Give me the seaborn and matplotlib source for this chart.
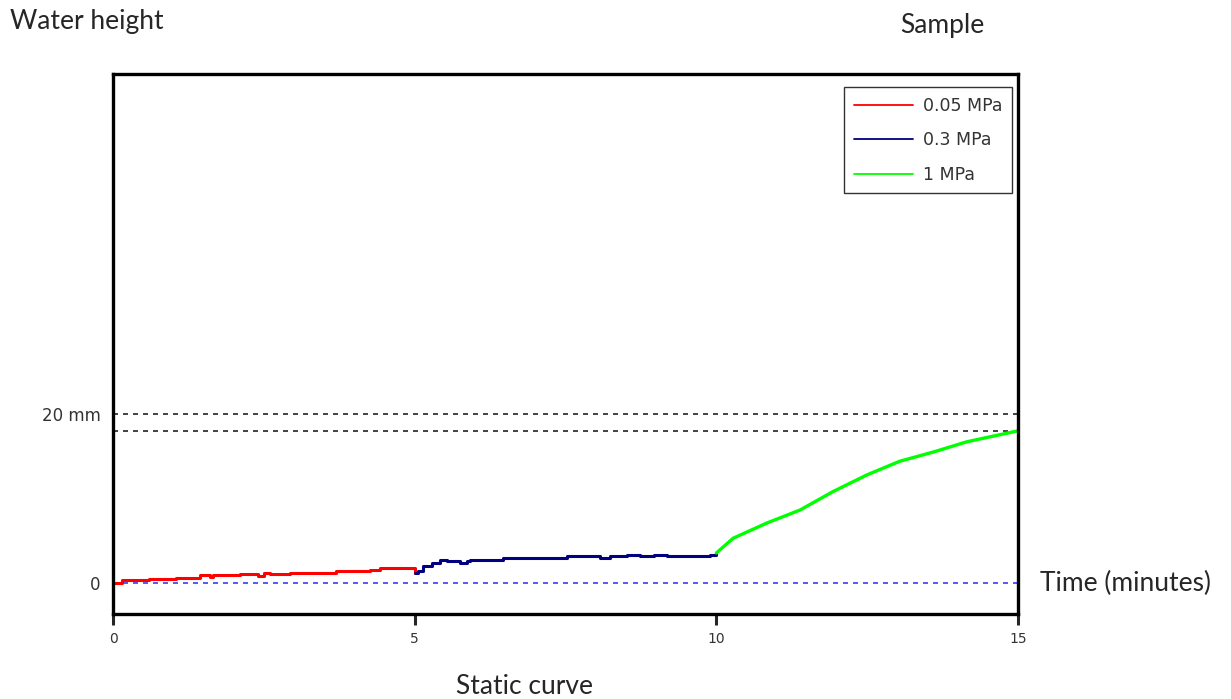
import pandas as pd
import seaborn as sns
import matplotlib.pyplot as plt

# Water height (mm) vs. time (minutes)
t_low = [0, 0.15, 0.6, 1.05, 1.44, 1.6, 1.65, 2.1, 2.4, 2.5, 2.6, 2.93, 3.7, 4.26, 4.42, 4.95, 5.0]
h_low = [0, 0.32, 0.51, 0.63, 0.91, 0.71, 0.95, 1.1, 0.87, 1.22, 1.1, 1.18, 1.38, 1.58, 1.78, 1.78, 1.18]

t_mid = [5.0, 5.06, 5.14, 5.28, 5.42, 5.53, 5.75, 5.86, 5.92, 6.47, 7.52, 8.07, 8.24, 8.52, 8.74, 8.96, 9.18, 9.89, 10.0]
h_mid = [1.18, 1.42, 1.97, 2.37, 2.68, 2.6, 2.37, 2.6, 2.76, 3.0, 3.2, 3.0, 3.2, 3.35, 3.2, 3.35, 3.2, 3.35, 3.55]

t_high = [10.0, 10.28, 10.84, 11.39, 11.93, 12.5, 13.04, 13.6, 14.15, 15.0]
h_high = [3.55, 5.3, 7.1, 8.64, 10.8, 12.8, 14.4, 15.5, 16.7, 18.0]

series_names = ['0.05 MPa', '0.3 MPa', '1 MPa']
series_colors = ['#ff0000', '#000080', '#00ff00']
limit_levels = [20, 18]

df_steps = pd.concat([
    pd.DataFrame({'time': t_low, 'height': h_low, 'pressure': series_names[0]}),
    pd.DataFrame({'time': t_mid, 'height': h_mid, 'pressure': series_names[1]}),
])
df_ramp = pd.DataFrame({'time': t_high, 'height': h_high, 'pressure': series_names[2]})
palette = dict(zip(series_names, series_colors))

sns.set_style('white')
plt.rcParams['font.family'] = ['DejaVu Sans']

fig = plt.figure(figsize=(12.31, 6.99), dpi=100)
ax = fig.add_axes([0.0918, 0.1216, 0.7352, 0.7724])

# the two low-pressure stages are stair-like, the 1 MPa stage climbs steadily
sns.lineplot(data=df_steps, x='time', y='height', hue='pressure', palette=palette,
             drawstyle='steps-post', linewidth=2.2, ax=ax, legend=False)
sns.lineplot(data=df_ramp, x='time', y='height', hue='pressure', palette=palette,
             linewidth=2.4, ax=ax, legend=False)

# reference lines
ax.axhline(0, color='#3a3aff', linestyle=(0, (3, 3)), linewidth=1.2, zorder=0)
for lvl in limit_levels:
    ax.axhline(lvl, color='#222222', linestyle=(0, (3, 3)), linewidth=1.2, zorder=0)

ax.set_xlim(0, 15)
ax.set_ylim(-3.67, 60.2)
ax.set_xticks([0, 5, 10, 15])
ax.set_xticklabels(['0', '5', '10', '15'], fontsize=10, color='#333333')
ax.set_yticks([0, 20])
ax.set_yticklabels(['0', '20 mm'], fontsize=12, color='#333333')
ax.tick_params(axis='x', direction='out', length=8, width=2.2, bottom=True, pad=5)
ax.tick_params(axis='y', length=0, pad=9)
ax.set_xlabel('')
ax.set_ylabel('')
for sp in ax.spines.values():
    sp.set_linewidth(2.4)
    sp.set_color('black')

handles = [plt.Line2D([], [], color=c, linewidth=1.3) for c in series_colors]
leg = ax.legend(handles, series_names, loc='upper right', fontsize=12.5, frameon=True,
                fancybox=False, edgecolor='#333333', framealpha=1, borderpad=0.55,
                handlelength=3.4, handletextpad=0.6, labelspacing=0.95,
                borderaxespad=0, bbox_to_anchor=(0.9934, 0.976))
leg.get_frame().set_linewidth(1.0)
for t in leg.get_texts():
    t.set_color('#333333')

# annotations around the plot
txt_font = ['Lato', 'DejaVu Sans']
fig.text(10 / 1231, 1 - 22 / 699, 'Water height', fontsize=19, family=txt_font, va='center', ha='left')
fig.text(942 / 1231, 1 - 25 / 699, 'Sample', fontsize=19, family=txt_font, va='center', ha='center')
fig.text(1040 / 1231, 1 - 583 / 699, 'Time (minutes)', fontsize=19, family=txt_font, va='center', ha='left')
fig.text(525 / 1231, 1 - 687 / 699, 'Static curve', fontsize=19, family=txt_font, va='center', ha='center')

fig.savefig('out.png', dpi=100)
